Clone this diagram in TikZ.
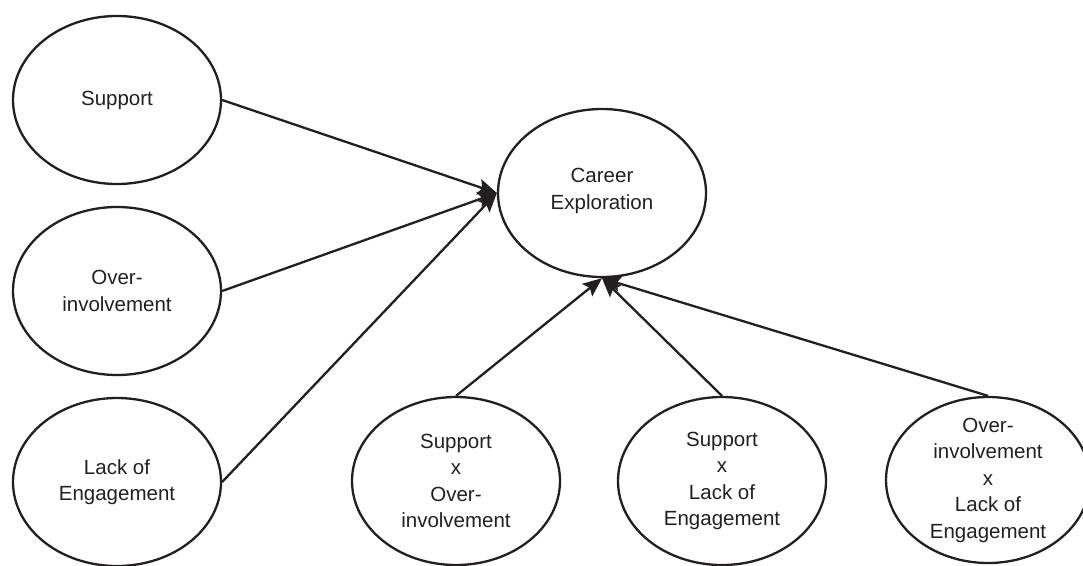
\documentclass[tikz,border=0pt]{standalone}
\usepackage{fontspec}
\setmainfont{Liberation Sans}
\usetikzlibrary{shapes.geometric,arrows.meta}
\definecolor{ink}{HTML}{231F20}
\begin{document}
\begin{tikzpicture}[x=1pt,y=-1pt,
  ell/.style={ellipse,draw=ink,line width=2.3pt,inner sep=0pt,
    minimum width=208pt,minimum height=168pt},
  txt/.style={align=center,text=ink,font=\fontsize{20.5}{26.5}\selectfont,inner sep=0pt},
  arr/.style={draw=ink,line width=2.3pt,-{Stealth[length=19pt,width=16pt,inset=3.5pt]}}]
\useasboundingbox (0,0) rectangle (1083,565);
\node[ell] (sup) at (117,100) {};
\node[ell] (over) at (117,291) {};
\node[ell] (lack) at (117,482) {};
\node[ell] (career) at (602,193) {};
\node[ell] (sxo) at (456,481) {};
\node[ell] (sxl) at (722,481) {};
\node[ell,minimum width=204pt,minimum height=166pt] (oxl) at (988,480) {};
\node[txt] (sup-t) at (sup) {Support};
\node[txt] (over-t) at (over) {Over-\\involvement};
\node[txt] (lack-t) at (lack) {Lack of\\Engagement};
\node[txt] (career-t) at ([yshift=2pt]career) {Career\\Exploration};
\node[txt] (sxo-t) at (sxo) {Support\\x\\Over-\\involvement};
\node[txt] (sxl-t) at (sxl) {Support\\x\\Lack of\\Engagement};
\node[txt] (oxl-t) at (oxl) {Over-\\involvement\\x\\Lack of\\Engagement};
\draw[arr] (sup.east) -- (career.west);
\draw[arr] (over.east) -- (career.west);
\draw[arr] (lack.east) -- (career.west);
\draw[arr] (sxo.north) -- (career.south);
\draw[arr] (sxl.north) -- (career.south);
\draw[arr] (oxl.north) -- (career.south);
\end{tikzpicture}
\end{document}
